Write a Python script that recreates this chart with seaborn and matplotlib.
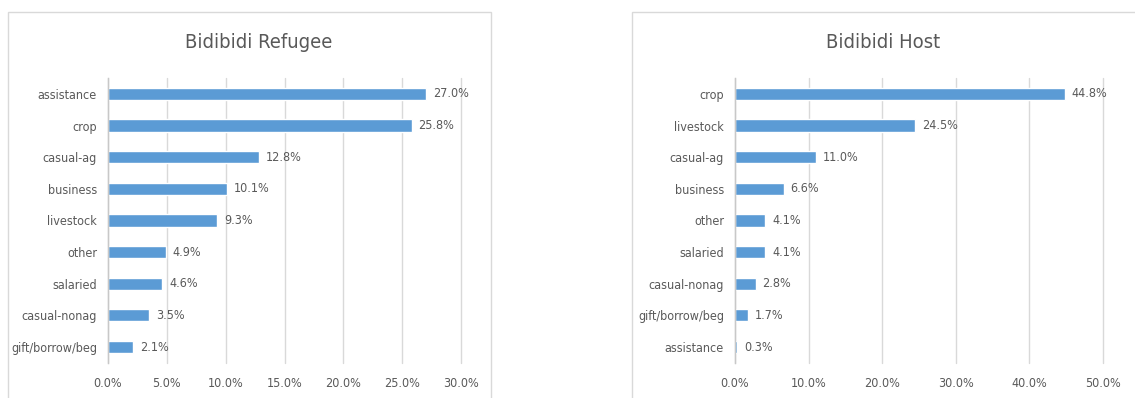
import matplotlib
matplotlib.use("Agg")
import matplotlib.pyplot as plt
from matplotlib.patches import Rectangle
from matplotlib.ticker import FuncFormatter, MultipleLocator
from matplotlib import font_manager
import seaborn as sns
import pandas as pd

refugee_categories = ["assistance", "crop", "casual-ag", "business", "livestock",
                      "other", "salaried", "casual-nonag", "gift/borrow/beg"]
refugee_values = [27.0, 25.8, 12.8, 10.1, 9.3, 4.9, 4.6, 3.5, 2.1]

host_categories = ["crop", "livestock", "casual-ag", "business", "other",
                   "salaried", "casual-nonag", "gift/borrow/beg", "assistance"]
host_values = [44.8, 24.5, 11.0, 6.6, 4.1, 4.1, 2.8, 1.7, 0.3]

sns.set_theme(style="white")
names = {f.name for f in font_manager.fontManager.ttflist}
narrow = [n for n in ["Liberation Sans Narrow", "DejaVu Sans Condensed"] if n in names]
plt.rcParams["font.family"] = narrow + ["DejaVu Sans"]
plt.rcParams["font.stretch"] = "condensed"

BAR = "#5B9BD5"
TEXT = "#595959"
GRID = "#D9D9D9"

fig = plt.figure(figsize=(11.35, 3.98), dpi=100)
fig.patch.set_facecolor("white")

# chart borders
fig.add_artist(Rectangle((0.0070, -0.02), 0.4256, 0.991, transform=fig.transFigure,
                         fill=False, edgecolor="#D9D9D9", linewidth=1.0))
fig.add_artist(Rectangle((0.5568, -0.02), 0.46, 0.991, transform=fig.transFigure,
                         fill=False, edgecolor="#D9D9D9", linewidth=1.0))

panels = [
    ("Bidibidi Refugee", refugee_categories, refugee_values,
     [0.0952, 0.088, 0.311, 0.716], 30, 5, 0.2275),
    ("Bidibidi Host", host_categories, host_values,
     [0.6476, 0.088, 0.3242, 0.716], 50, 10, 0.778),
]

for title, cats, vals, rect, xmax, step, title_x in panels:
    ax = fig.add_axes(rect)
    df = pd.DataFrame({"category": cats, "share": vals})
    sns.barplot(data=df, x="share", y="category", orient="h", color=BAR,
                saturation=1, width=0.38, ax=ax)
    ax.set_xlim(0, xmax)
    ax.xaxis.set_major_locator(MultipleLocator(step))
    ax.xaxis.set_major_formatter(FuncFormatter(lambda v, p: f"{v:.1f}%"))
    ax.set_xlabel("")
    ax.set_ylabel("")
    ax.grid(axis="x", color=GRID, linewidth=1.0)
    for gl in ax.get_xgridlines():
        gl.set_clip_on(False)
    ax.set_axisbelow(True)
    for s in ["top", "right", "bottom"]:
        ax.spines[s].set_visible(False)
    ax.spines["left"].set_color("#C8C8C8")
    ax.spines["left"].set_linewidth(1.0)
    ax.tick_params(axis="both", length=0, labelsize=9, labelcolor=TEXT)
    ax.tick_params(axis="x", pad=10)
    ax.tick_params(axis="y", pad=8)
    for c in ax.containers:
        ax.bar_label(c, labels=[f"{v:.1f}%" for v in vals], padding=5,
                     fontsize=9, color=TEXT)
    fig.text(title_x, 0.892, title, ha="center", va="center",
             fontsize=14.5, color=TEXT)

fig.savefig("out.png", dpi=100, facecolor="white")
